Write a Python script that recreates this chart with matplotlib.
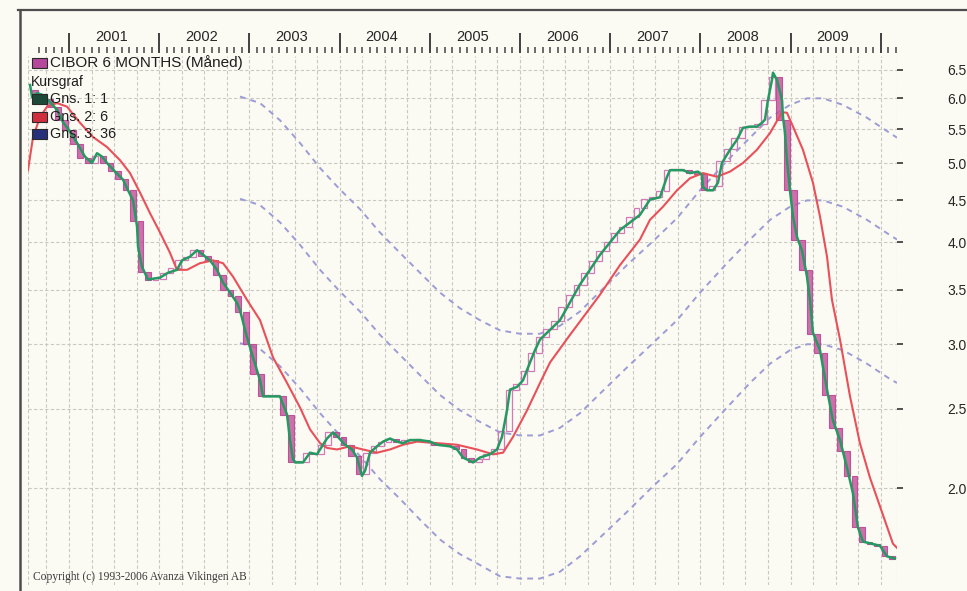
import numpy as np
import matplotlib
matplotlib.use("Agg")
import matplotlib.pyplot as plt
from matplotlib.patches import Rectangle
from matplotlib.lines import Line2D
from matplotlib.ticker import FixedLocator, FixedFormatter, NullLocator, NullFormatter

# ---------------- data ----------------
# monthly candles: first open, then month-end closes Aug 2000 .. Feb 2010
first_open = 6.15
closes = [
    6.08, 5.99, 5.86, 5.65, 5.48,                                        # 2000 Aug-Dec
    5.28, 5.07, 5.00, 5.10, 5.00, 4.89, 4.78, 4.63, 4.25, 3.68, 3.60, 3.61,  # 2001
    3.67, 3.72, 3.80, 3.84, 3.91, 3.85, 3.80, 3.65, 3.50, 3.44, 3.29, 3.00,  # 2002
    2.76, 2.59, 2.59, 2.59, 2.46, 2.15, 2.15, 2.21, 2.20, 2.26, 2.34, 2.31,  # 2003
    2.26, 2.19, 2.08, 2.21, 2.25, 2.28, 2.30, 2.28, 2.28, 2.29, 2.29, 2.28,  # 2004
    2.26, 2.26, 2.25, 2.23, 2.18, 2.15, 2.17, 2.20, 2.23, 2.35, 2.64, 2.68,  # 2005
    2.78, 2.93, 3.06, 3.13, 3.20, 3.33, 3.45, 3.55, 3.67, 3.79, 3.90, 4.00,  # 2006
    4.10, 4.18, 4.30, 4.40, 4.52, 4.54, 4.62, 4.90, 4.90, 4.90, 4.86, 4.85,  # 2007
    4.63, 4.68, 5.03, 5.20, 5.37, 5.53, 5.54, 5.58, 5.97, 6.37, 5.65, 4.63,  # 2008
    4.03, 3.70, 3.09, 2.93, 2.60, 2.37, 2.22, 2.07, 1.79, 1.72, 1.71, 1.70,  # 2009
    1.65, 1.64,                                                           # 2010 Jan-Feb
]
first_month = 2000 + 7 / 12.0   # August 2000

# Gns. 1: 1 (green)
g1_t = [2000.568, 2000.590, 2000.645, 2000.701, 2000.767, 2000.867, 2000.933, 2001.011,
        2001.089, 2001.177, 2001.255, 2001.310, 2001.366, 2001.421, 2001.510, 2001.599,
        2001.654, 2001.710, 2001.754, 2001.765, 2001.809, 2001.876, 2002.009, 2002.098,
        2002.197, 2002.253, 2002.341, 2002.419, 2002.486, 2002.563, 2002.641, 2002.707,
        2002.785, 2002.863, 2002.896, 2002.973, 2003.040, 2003.118, 2003.151, 2003.339,
        2003.417, 2003.450, 2003.483, 2003.506, 2003.594, 2003.672, 2003.749, 2003.805,
        2003.860, 2003.927, 2003.982, 2004.060, 2004.137, 2004.193, 2004.248, 2004.282,
        2004.337, 2004.415, 2004.481, 2004.559, 2004.636, 2004.703, 2004.780, 2004.891,
        2005.002, 2005.080, 2005.224, 2005.302, 2005.368, 2005.479, 2005.557, 2005.667,
        2005.745, 2005.800, 2005.856, 2005.889, 2005.967, 2006.033, 2006.111, 2006.166,
        2006.222, 2006.443, 2006.665, 2006.887, 2007.109, 2007.330, 2007.441, 2007.552,
        2007.630, 2007.663, 2007.807, 2007.885, 2007.973, 2008.018, 2008.029, 2008.073,
        2008.140, 2008.195, 2008.239, 2008.328, 2008.406, 2008.472, 2008.550, 2008.627,
        2008.683, 2008.716, 2008.749, 2008.794, 2008.805, 2008.849, 2008.905, 2008.916,
        2008.938, 2008.960, 2008.993, 2009.027, 2009.071, 2009.126, 2009.182, 2009.215,
        2009.248, 2009.326, 2009.404, 2009.470, 2009.548, 2009.625, 2009.692, 2009.747,
        2009.803, 2009.991, 2010.069, 2010.157]
g1_v = [6.23, 6.02, 6.09, 6.06, 5.97, 5.81, 5.61, 5.46,
        5.29, 5.09, 5.00, 5.14, 5.09, 5.00, 4.88, 4.77,
        4.63, 4.50, 4.18, 3.95, 3.73, 3.60, 3.62, 3.67,
        3.70, 3.80, 3.84, 3.91, 3.86, 3.80, 3.70, 3.57,
        3.47, 3.37, 3.30, 3.06, 2.89, 2.71, 2.59, 2.59,
        2.46, 2.29, 2.17, 2.15, 2.15, 2.21, 2.20, 2.25,
        2.30, 2.34, 2.31, 2.26, 2.23, 2.18, 2.07, 2.10,
        2.21, 2.25, 2.28, 2.30, 2.28, 2.27, 2.29, 2.29,
        2.28, 2.26, 2.25, 2.23, 2.18, 2.15, 2.18, 2.20,
        2.23, 2.31, 2.49, 2.64, 2.66, 2.71, 2.85, 2.95,
        3.04, 3.21, 3.55, 3.86, 4.14, 4.32, 4.51, 4.54,
        4.81, 4.90, 4.90, 4.86, 4.88, 4.83, 4.67, 4.63,
        4.63, 4.73, 5.00, 5.19, 5.34, 5.52, 5.54, 5.54,
        5.60, 5.65, 5.97, 6.32, 6.45, 6.32, 5.97, 5.69,
        5.44, 5.04, 4.63, 4.30, 4.06, 3.91, 3.63, 3.40,
        3.10, 2.95, 2.64, 2.42, 2.29, 2.12, 1.97, 1.79,
        1.72, 1.70, 1.65, 1.64]

# Gns. 2: 6 (red)
g2_t = [2000.545, 2000.601, 2000.678, 2000.756, 2000.867, 2000.978, 2001.122, 2001.266,
        2001.421, 2001.565, 2001.676, 2001.787, 2001.898, 2002.009, 2002.120, 2002.197,
        2002.308, 2002.452, 2002.596, 2002.707, 2002.818, 2002.973, 2003.118, 2003.262,
        2003.417, 2003.561, 2003.672, 2003.783, 2003.860, 2003.971, 2004.115, 2004.259,
        2004.415, 2004.559, 2004.703, 2004.858, 2005.080, 2005.302, 2005.523, 2005.701,
        2005.812, 2005.922, 2006.078, 2006.222, 2006.333, 2006.554, 2006.887, 2007.109,
        2007.330, 2007.441, 2007.585, 2007.741, 2007.885, 2008.029, 2008.184, 2008.328,
        2008.472, 2008.627, 2008.772, 2008.905, 2008.960, 2009.027, 2009.137, 2009.248,
        2009.326, 2009.404, 2009.459, 2009.548, 2009.659, 2009.769, 2009.880, 2009.991,
        2010.135, 2010.180]
g2_v = [4.90, 5.38, 5.69, 5.86, 5.92, 5.86, 5.60, 5.38,
        5.23, 5.04, 4.86, 4.60, 4.34, 4.11, 3.88, 3.70,
        3.70, 3.77, 3.80, 3.77, 3.63, 3.40, 3.21, 2.89,
        2.69, 2.51, 2.36, 2.27, 2.24, 2.23, 2.25, 2.23,
        2.21, 2.23, 2.26, 2.28, 2.27, 2.26, 2.23, 2.20,
        2.21, 2.31, 2.49, 2.69, 2.85, 3.08, 3.45, 3.75,
        4.03, 4.26, 4.42, 4.63, 4.79, 4.86, 4.81, 4.88,
        5.00, 5.19, 5.44, 5.77, 5.76, 5.54, 5.19, 4.73,
        4.30, 3.84, 3.40, 3.04, 2.59, 2.27, 2.06, 1.90,
        1.71, 1.69]

# Gns. 3: 36 (dashed) with its upper and lower envelope
g3_t = [2002.896, 2003.118, 2003.339, 2003.561, 2003.783, 2004.004, 2004.226, 2004.448,
        2004.670, 2004.891, 2005.113, 2005.335, 2005.557, 2005.778, 2006.000, 2006.222,
        2006.443, 2006.665, 2006.887, 2007.186, 2007.474, 2007.741, 2007.996, 2008.295,
        2008.550, 2008.772, 2008.993, 2009.182, 2009.359, 2009.581, 2009.847, 2010.102,
        2010.180]
g3_mid = [4.52, 4.44, 4.23, 3.97, 3.70, 3.48, 3.29, 3.08,
          2.91, 2.75, 2.60, 2.49, 2.41, 2.34, 2.32, 2.32,
          2.37, 2.47, 2.61, 2.81, 3.01, 3.21, 3.47, 3.77,
          4.03, 4.26, 4.42, 4.50, 4.50, 4.42, 4.26, 4.08,
          4.03]
g3_up = [6.03, 5.92, 5.64, 5.29, 4.93, 4.64, 4.39, 4.11,
         3.88, 3.67, 3.47, 3.32, 3.21, 3.12, 3.09, 3.09,
         3.16, 3.29, 3.48, 3.75, 4.01, 4.28, 4.63, 5.03,
         5.37, 5.68, 5.89, 6.00, 6.00, 5.89, 5.68, 5.44,
         5.37]
g3_lo = [3.01, 2.96, 2.82, 2.65, 2.47, 2.32, 2.19, 2.05,
         1.94, 1.83, 1.73, 1.66, 1.61, 1.56, 1.55, 1.55,
         1.58, 1.65, 1.74, 1.87, 2.01, 2.14, 2.31, 2.51,
         2.69, 2.84, 2.95, 3.00, 3.00, 2.95, 2.84, 2.72,
         2.69]

y_ticks = [2.0, 2.5, 3.0, 3.5, 4.0, 4.5, 5.0, 5.5, 6.0, 6.5]
y_labels = ["2.0", "2.5", "3.0", "3.5", "4.0", "4.5", "5.0", "5.5", "6.0", "6.5"]
year_labels = ["2001", "2002", "2003", "2004", "2005", "2006", "2007", "2008", "2009"]
year_bounds = [2001, 2002, 2003, 2004, 2005, 2006, 2007, 2008, 2009, 2010]

legend_items = [("CIBOR 6 MONTHS (Måned)", "#b5489c"),
                ("Kursgraf", None),
                ("Gns. 1: 1", "#1d4a38"),
                ("Gns. 2: 6", "#d0303e"),
                ("Gns. 3: 36", "#26307a")]
copyright_text = "Copyright (c) 1993-2006 Avanza Vikingen AB"

# ---------------- figure ----------------
W, H = 967, 591
bg = "#fbfbf3"
fig = plt.figure(figsize=(W / 100, H / 100), dpi=100)
fig.patch.set_facecolor(bg)

def fx(px):
    return px / W

def fy(py):
    return 1 - py / H

SANS = ["Liberation Sans", "DejaVu Sans"]
SERIF = ["Liberation Serif", "DejaVu Serif"]

ax = fig.add_axes([fx(28), fy(585), fx(897) - fx(28), fy(56) - fy(585)])
ax.set_facecolor(bg)
ax.set_yscale("log")
ax.set_xlim(2000.545, 2010.18)
ax.set_ylim(1.522, 6.76)

grid_c = "#c9c9c4"
# vertical quarterly grid
for q in np.arange(2000.75, 2010.18, 0.25):
    ax.axvline(q, color=grid_c, lw=0.8, ls=(0, (3, 2)), zorder=0)
ax.axvline(2000.545, color=grid_c, lw=0.8, ls=(0, (3, 2)), zorder=0)
ax.axvline(2010.18, color=grid_c, lw=0.8, ls=(0, (3, 2)), zorder=0)

# y axis (right)
ax.yaxis.set_major_locator(FixedLocator(y_ticks))
ax.yaxis.set_major_formatter(FixedFormatter(y_labels))
ax.yaxis.set_minor_locator(NullLocator())
ax.yaxis.set_minor_formatter(NullFormatter())
ax.yaxis.tick_right()
ax.tick_params(axis="y", which="major", direction="out", length=4.5, width=1.2,
               color="#333333", pad=32, labelsize=10, labelcolor="#262626")
for lab in ax.get_yticklabels():
    lab.set_family(SANS)
ax.grid(axis="y", which="major", color=grid_c, lw=0.8, ls=(0, (3, 2)), zorder=0)

# x ruler on top
ax.xaxis.tick_top()
ax.xaxis.set_major_locator(FixedLocator(year_bounds))
ax.xaxis.set_major_formatter(NullFormatter())
month_ticks = np.arange(2000 + 8 / 12.0, 2010.2, 1 / 12.0)
ax.xaxis.set_minor_locator(FixedLocator(month_ticks))
ax.xaxis.set_minor_formatter(NullFormatter())
ax.spines["top"].set_position(("outward", 2.2))
ax.tick_params(axis="x", which="major", direction="out", length=14.5, width=1.3,
               color="#333333")
ax.tick_params(axis="x", which="minor", direction="out", length=4.3, width=1.1,
               color="#444444")
for s in ["top", "bottom", "left", "right"]:
    ax.spines[s].set_visible(False)

for i, lab in enumerate(year_labels):
    ax.annotate(lab, xy=(year_bounds[i] + 0.47, 1.0), xycoords=("data", "axes fraction"),
                xytext=(0, 14), textcoords="offset points", ha="center", va="center",
                fontsize=10.5, family=SANS, color="#262626", annotation_clip=False)

# dashed MA36 with envelope
dash_c = "#9d9cd6"
for series in (g3_up, g3_mid, g3_lo):
    ax.plot(g3_t, series, color=dash_c, lw=1.4, ls=(0, (3, 2.6)), zorder=2)

# monthly candles
n = len(closes)
opens = [first_open] + closes[:-1]
mstart = np.array([first_month + i / 12.0 for i in range(n)])
for i in range(n):
    o, c = opens[i], closes[i]
    lo, hi = min(o, c), max(o, c)
    if hi / lo < 1.004:
        hi = lo * 1.004
    x0 = mstart[i] + 0.12 / 12.0
    wdt = 0.76 / 12.0
    if c < o:
        ax.bar(x0, hi - lo, bottom=lo, width=wdt, align="edge",
               color="#c5569f", edgecolor="#b8408f", lw=0.8, alpha=0.85, zorder=3)
    else:
        ax.bar(x0, hi - lo, bottom=lo, width=wdt, align="edge",
               facecolor="none", edgecolor="#d27ab8", lw=0.9, zorder=3)

# moving averages
ax.plot(g2_t, g2_v, color="#e9505a", lw=1.5, zorder=4, solid_joinstyle="round")
ax.plot(g1_t, g1_v, color="#249a62", lw=1.8, zorder=5, solid_joinstyle="round")

# ---------------- legend (top-left, no box) ----------------
rows_y = [63, 82, 99, 117, 134]
for (txt, col), yy in zip(legend_items, rows_y):
    if col is None:
        fig.text(fx(31), fy(yy), txt, fontsize=10, family=SANS, color="#1e1e1e",
                 va="center", ha="left", zorder=10)
    else:
        fig.add_artist(Rectangle((fx(32), fy(yy + 5)), fx(15), 10 / H,
                                 facecolor=col, edgecolor="#2a2a2a", lw=0.8, zorder=9))
        fs = 11 if yy == 63 else 10.3
        fig.text(fx(50), fy(yy), txt, fontsize=fs, family=SANS, color="#1e1e1e",
                 va="center", ha="left", zorder=10)

fig.text(fx(33), fy(577), copyright_text, fontsize=8.3, family=SERIF,
         color="#3a3a3a", va="center", ha="left")

# outer frame
fig.add_artist(Line2D([fx(18), 1.0], [fy(10), fy(10)], color="#4d4d4d", lw=1.6))
fig.add_artist(Line2D([fx(19.5), fx(19.5)], [fy(10), 0.0], color="#4d4d4d", lw=1.8))

fig.savefig("out.png", dpi=100, facecolor=bg)
